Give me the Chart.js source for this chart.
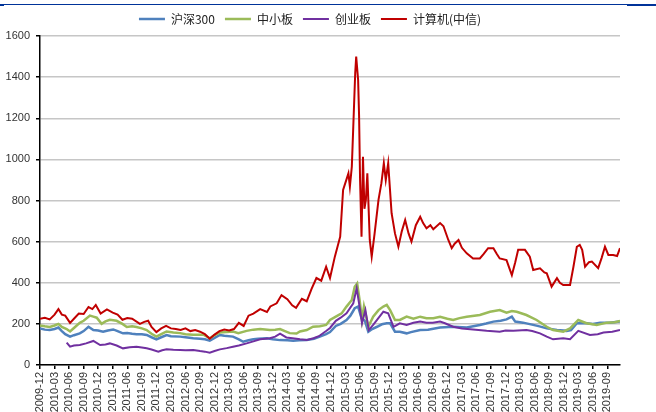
<!DOCTYPE html>
<html>
<head>
<meta charset="utf-8">
<script src="https://cdn.jsdelivr.net/npm/chart.js@4.4.1/dist/chart.umd.min.js"></script>
<style>
  body { margin: 0; background: #fff; }
  #wrap { position: relative; width: 656px; height: 412px; }
  .rule { position: absolute; background: #003399; }
</style>
</head>
<body>
<div id="wrap">
  <div class="rule" style="left:0;top:4px;width:656px;height:1px"></div>
  <div class="rule" style="left:0;top:4px;width:4px;height:2px"></div>
  <div class="rule" style="left:627px;top:4px;width:29px;height:2px"></div>
  <canvas id="chart" width="656" height="412"></canvas>
</div>
<script>
// x = months since 2009-12
const tickLabels = [
    '2009-12', '2010-03', '2010-06', '2010-09', '2010-12', '2011-03', '2011-06', '2011-09',
    '2011-12', '2012-03', '2012-06', '2012-09', '2012-12', '2013-03', '2013-06', '2013-09',
    '2013-12', '2014-03', '2014-06', '2014-09', '2014-12', '2015-03', '2015-06', '2015-09',
    '2015-12', '2016-03', '2016-06', '2016-09', '2016-12', '2017-03', '2017-06', '2017-09',
    '2017-12', '2018-03', '2018-06', '2018-09', '2018-12', '2019-03', '2019-06', '2019-09'
];

const hs300 = [
    [0, 178], [1, 172], [2, 170], [3, 175], [3.8, 182], [4.5, 165], [5.2, 150], [6.2, 138], [7, 145],
    [8.2, 154], [9, 165], [10, 186], [11, 170], [12, 168], [13, 162], [14, 168], [15.1, 173], [16, 165],
    [17.1, 154], [18, 155], [19, 152], [19.9, 150], [21, 150], [22, 146], [23, 135], [24, 125], [25, 135],
    [26.1, 146], [27, 140], [28.9, 138], [30, 135], [31.6, 130], [33, 128], [34, 125], [35, 118], [36, 132],
    [37.1, 146], [38, 142], [39.8, 138], [41, 125], [41.9, 113], [43, 120], [44, 125], [45, 128], [46.8, 130],
    [48, 125], [49.5, 121], [51, 120], [52.2, 118], [53.5, 120], [55, 121], [56.5, 128], [57.7, 138], [59, 150],
    [59.8, 160], [61, 190], [62, 200], [63.2, 219], [64, 240], [64.9, 276], [65.6, 284], [66.3, 227], [67, 215],
    [67.7, 162], [68.5, 175], [69.5, 186], [70.5, 198], [71.5, 203], [72.2, 203], [73.2, 162], [74.2, 162],
    [75.6, 154], [76.5, 160], [78.4, 170], [80, 172], [82.5, 182], [85.2, 186], [88, 182], [90.7, 195],
    [92, 202], [93.5, 211], [95, 215], [96.2, 222], [97.3, 235], [98, 211], [99.6, 206], [101.7, 195],
    [103, 188], [104.5, 178], [106.6, 170], [108.6, 166], [109.5, 170], [110.7, 203], [112.7, 203], [114, 200],
    [115.5, 206], [117.5, 205], [119.6, 211]
];

const smeBoard = [
    [0, 192], [1, 188], [2, 185], [3, 192], [3.8, 200], [4.5, 185], [5.5, 175], [6.2, 163], [7, 180],
    [8.2, 205], [9, 215], [10.3, 240], [11, 235], [11.7, 230], [12.7, 200], [13.5, 212], [14.4, 220],
    [15.8, 215], [17, 200], [17.9, 185], [19, 188], [19.9, 185], [21, 178], [22, 170], [23, 152], [24, 138],
    [25, 150], [26.1, 163], [27.5, 158], [28.9, 155], [30, 150], [31.6, 147], [33.7, 147], [35, 130], [36, 145],
    [37.1, 158], [38.5, 160], [39.8, 163], [40.9, 155], [42.6, 166], [44, 172], [45.4, 175], [47.4, 170],
    [48.5, 172], [49.5, 175], [50.5, 165], [51.5, 155], [52.9, 153], [53.6, 163], [55, 170], [56.3, 186],
    [57.7, 189], [59, 195], [59.8, 219], [61, 235], [62.2, 251], [63.2, 284], [64.3, 316], [64.9, 381],
    [65.4, 397], [65.9, 316], [66.4, 219], [66.8, 284], [67.7, 186], [68.7, 235], [69.8, 267], [70.8, 284],
    [71.5, 292], [72.2, 267], [73.2, 219], [74.2, 219], [75.6, 235], [77, 225], [78.4, 235], [79.7, 227],
    [81.1, 227], [82.5, 235], [84, 225], [85.2, 219], [86.5, 228], [88, 235], [90.7, 243], [92.8, 259],
    [94.8, 267], [96.2, 254], [97.3, 262], [98.3, 259], [100.3, 243], [102.4, 219], [104.5, 186], [105.8, 170],
    [107.9, 162], [109.3, 178], [111, 219], [112.7, 203], [114.8, 195], [116.9, 206], [118.5, 208], [119.6, 214]
];

const chinext = [
    [5.5, 109], [6.2, 89], [7, 95], [8.2, 97], [9.5, 105], [11, 117], [12.4, 97], [13.5, 100], [14.4, 105],
    [15.8, 95], [17.1, 81], [18.5, 86], [19.9, 89], [21, 85], [22, 81], [23, 75], [24.4, 65], [25.2, 72],
    [26.1, 76], [27.5, 74], [28.9, 73], [30, 72], [31.6, 73], [33, 68], [34, 65], [35, 60], [36, 68],
    [37.1, 76], [38.5, 82], [39.8, 89], [41, 95], [42.6, 105], [44, 115], [45.4, 125], [47.4, 130],
    [48.5, 138], [49.5, 152], [50.8, 134], [52.9, 128], [53.6, 125], [55, 122], [56.4, 130], [57.5, 140],
    [59, 165], [59.8, 180], [61, 215], [62, 230], [63.2, 251], [64.6, 300], [65.3, 373], [65.9, 284],
    [66.4, 203], [67.1, 267], [67.8, 170], [68.7, 195], [69.5, 219], [70.8, 259], [71.8, 251], [72.9, 186],
    [74.2, 203], [75.6, 195], [77, 205], [78.4, 211], [79.7, 206], [81, 205], [82.5, 211], [83.5, 203],
    [85.2, 186], [87, 178], [89.3, 173], [92.1, 166], [94.8, 162], [96, 168], [97.6, 166], [100.3, 170],
    [101.5, 165], [103.1, 154], [104.5, 138], [105.8, 125], [107.9, 130], [109.3, 125], [111, 166],
    [113.4, 146], [115, 150], [116.2, 158], [118, 162], [119.6, 170]
];

const computer = [
    [0, 225], [1, 230], [2, 222], [3, 245], [3.8, 272], [4.5, 245], [5.2, 240], [6.2, 205], [7, 225], [8, 250],
    [9, 248], [10, 282], [10.8, 272], [11.5, 292], [12.5, 250], [13.8, 270], [15, 255], [16, 245], [17, 220],
    [18, 228], [19, 225], [20.6, 200], [21.5, 210], [22.3, 215], [23, 185], [24, 160], [25, 178], [26, 190],
    [27, 178], [28, 175], [29, 170], [30, 178], [31, 165], [32, 170], [33, 162], [34, 150], [35, 128],
    [36, 148], [37, 165], [38, 172], [39, 168], [40, 175], [41, 205], [42, 190], [43, 240], [44, 250],
    [45.4, 272], [46.8, 258], [47.5, 285], [48.8, 300], [49.8, 340], [51, 320], [52, 290], [52.8, 278],
    [54, 322], [55, 310], [56, 370], [57, 423], [58, 410], [59, 478], [59.8, 423], [60.8, 527], [61.9, 624],
    [62.5, 851], [63.6, 932], [63.9, 867], [64.3, 965], [64.6, 1159], [65, 1420], [65.2, 1500], [65.6, 1386],
    [65.8, 1208], [66, 900], [66.3, 624], [66.6, 1013], [66.9, 760], [67.2, 803], [67.5, 932], [68, 608],
    [68.4, 527], [69, 640], [69.8, 803], [70.4, 884], [70.9, 981], [71.3, 900], [71.8, 981], [72.5, 738],
    [73.2, 640], [73.9, 575], [74.6, 650], [75.3, 705], [76, 640], [76.6, 600], [77.5, 680], [78.4, 721],
    [79, 690], [79.7, 665], [80.5, 680], [81.1, 660], [82.5, 690], [83.2, 675], [84.2, 608], [84.9, 568],
    [85.5, 590], [86.3, 608], [87, 570], [88, 543], [89.3, 518], [90.7, 518], [91.5, 540], [92.4, 568],
    [93.5, 568], [94.2, 540], [94.8, 518], [96.2, 510], [96.8, 470], [97.3, 437], [98, 500], [98.6, 560],
    [100, 560], [101, 527], [101.7, 462], [103.1, 470], [104, 450], [104.5, 446], [105.5, 381], [106.6, 422],
    [107.2, 400], [107.9, 389], [109.3, 389], [110, 478], [110.7, 575], [111.3, 584], [111.8, 560],
    [112.4, 478], [113.2, 500], [113.8, 503], [115.1, 471], [115.8, 520], [116.5, 575], [117.2, 535],
    [118.2, 535], [119, 530], [119.6, 568]
];

const toPoints = (series) => series.map(([x, y]) => ({ x: x, y: y }));

// pin the legend height so the plot starts where the reference does
const legendHeight = {
    id: 'legendHeight',
    beforeInit(chart) {
        const fit = chart.legend.fit;
        chart.legend.fit = function () {
            fit.bind(chart.legend)();
            this.height = 33;
        };
    }
};

function makeSet(label, series, color, width, order) {
    return {
        label: label,
        data: toPoints(series),
        borderColor: color,
        backgroundColor: color,
        borderWidth: width,
        pointRadius: 0,
        tension: 0,
        order: order
    };
}

new Chart(document.getElementById('chart'), {
    type: 'line',
    data: {
        datasets: [
            makeSet('沪深300', hs300, '#4F81BD', 2.5, 3),
            makeSet('中小板', smeBoard, '#9BBB59', 2.5, 2),
            makeSet('创业板', chinext, '#7030A0', 2, 1),
            makeSet('计算机(中信)', computer, '#C00000', 2, 0)
        ]
    },
    options: {
        responsive: false,
        animation: false,
        layout: { padding: { top: 3, right: 36, left: 0, bottom: 0 } },
        plugins: {
            tooltip: { enabled: false },
            legend: {
                position: 'top',
                labels: {
                    usePointStyle: true,
                    pointStyle: 'line',
                    pointStyleWidth: 26,
                    padding: 10,
                    color: '#222',
                    font: { family: '"Noto Sans CJK SC", "Liberation Sans", sans-serif', size: 12 },
                    sort: (a, b) => a.datasetIndex - b.datasetIndex
                }
            }
        },
        scales: {
            x: {
                type: 'linear',
                min: 0,
                max: 119.6,
                afterBuildTicks: (scale) => {
                    scale.ticks = tickLabels.map((t, i) => ({ value: i * 3 }));
                },
                afterFit: (scale) => { scale.height = 47; },
                grid: { drawOnChartArea: false, tickColor: '#000', tickLength: 4, lineWidth: 1.5 },
                border: { color: '#000', width: 1.5 },
                ticks: {
                    autoSkip: false,
                    minRotation: 90,
                    maxRotation: 90,
                    padding: 3,
                    color: '#333',
                    font: { family: '"Liberation Sans", Arial, sans-serif', size: 11 },
                    callback: (value) => tickLabels[Math.round(value / 3)]
                }
            },
            y: {
                min: 0,
                max: 1600,
                afterFit: (scale) => { scale.width = 40; },
                grid: { color: '#c6c6c6', lineWidth: 1.5, tickColor: '#000', tickLength: 4 },
                border: { color: '#000', width: 1.5 },
                ticks: {
                    stepSize: 200,
                    padding: 6,
                    color: '#333',
                    font: { family: '"Liberation Sans", Arial, sans-serif', size: 11 },
                    callback: (value) => String(value)
                }
            }
        }
    },
    plugins: [legendHeight]
});
</script>
</body>
</html>
